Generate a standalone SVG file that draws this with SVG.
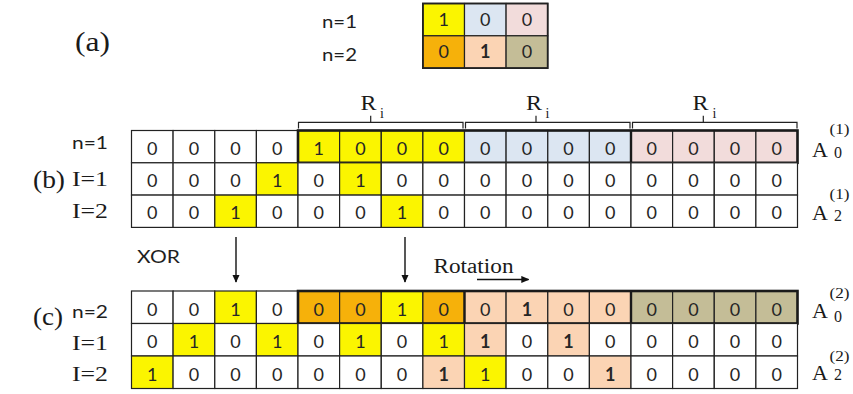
<svg xmlns="http://www.w3.org/2000/svg" width="853" height="394" viewBox="0 0 853 394">
  <style>
    .cell { stroke: #222; stroke-width: 1.2; fill: #ffffff; }
    .y { fill: #fbf500; }
    .b { fill: #dce6f2; }
    .p { fill: #f2dcdb; }
    .o { fill: #f6b10a; }
    .k { fill: #fbd4b4; }
    .t { fill: #c4bd97; }
    .frame { fill: none; stroke: #1a1a1a; stroke-width: 2.6; }
    .sep { stroke: #1a1a1a; stroke-width: 2.4; }
    .d { font-family: Lato, "Open Sans", sans-serif; font-size: 18px; fill: #262626; text-anchor: middle; }
    .bd { font-weight: bold; }
    .lab { font-family: Lato, "Open Sans", sans-serif; font-size: 17px; fill: #1e1e1e; }
    .ser { font-family: "Liberation Serif", "DejaVu Serif", serif; fill: #1a1a1a; }
    .brk { fill: none; stroke: #222; stroke-width: 1.2; }
    .arr { stroke: #111; stroke-width: 1.4; fill: none; }
  </style>
  <defs>
    <marker id="ah" viewBox="0 0 10 10" refX="9" refY="5" markerWidth="8" markerHeight="8" markerUnits="userSpaceOnUse" orient="auto">
      <path d="M0,0.5 L10,5 L0,9.5 z" fill="#111"/>
    </marker>
  </defs>
  <rect width="853" height="394" fill="#ffffff"/>

  <!-- panel (a): 2x3 colour key -->
  <g id="panel-a">
    <text class="ser" x="75" y="51" font-size="27" textLength="35" lengthAdjust="spacingAndGlyphs">(a)</text>
    <text class="lab" x="322" y="28" textLength="35" lengthAdjust="spacingAndGlyphs">n=1</text>
    <text class="lab" x="322" y="61" textLength="35" lengthAdjust="spacingAndGlyphs">n=2</text>
    <rect class="cell y" x="422.9" y="3.5" width="41.6" height="32.3"/>
    <rect class="cell b" x="464.5" y="3.5" width="41.6" height="32.3"/>
    <rect class="cell p" x="506.1" y="3.5" width="41.6" height="32.3"/>
    <rect class="cell o" x="422.9" y="35.8" width="41.6" height="32.3"/>
    <rect class="cell k" x="464.5" y="35.8" width="41.6" height="32.3"/>
    <rect class="cell t" x="506.1" y="35.8" width="41.6" height="32.3"/>
    <rect x="422.9" y="3.5" width="124.8" height="64.6" fill="none" stroke="#222" stroke-width="1.8"/>
    <text class="d" x="443.7" y="26">1</text>
    <text class="d" x="485.3" y="26">0</text>
    <text class="d" x="526.9" y="26">0</text>
    <text class="d" x="443.7" y="58.3">0</text>
    <text class="d bd" x="485.3" y="58.3">1</text>
    <text class="d" x="526.9" y="58.3">0</text>
  </g>

  <!-- panel (b): A0(1) and the two shifted rows -->
  <g id="panel-b">
    <text class="ser" x="33" y="188" font-size="25" textLength="32" lengthAdjust="spacingAndGlyphs">(b)</text>
    <text class="lab" x="72" y="149" textLength="36" lengthAdjust="spacingAndGlyphs">n=1</text>
    <text class="ser" x="72" y="186" font-size="21" textLength="36" lengthAdjust="spacingAndGlyphs">I=1</text>
    <text class="ser" x="72" y="218" font-size="21" textLength="36" lengthAdjust="spacingAndGlyphs">I=2</text>

    <!-- brackets R_i over the three sub-blocks -->
    <path class="brk" d="M298.5,128.5 V122.3 H463 V128.5 M370.7,122.3 V115.7"/>
    <path class="brk" d="M465.5,128.5 V122.3 H630 V128.5 M536,122.3 V115.7"/>
    <path class="brk" d="M632.5,128.5 V122.3 H797 V128.5 M703.3,122.3 V115.7"/>
    <text class="ser" x="360.5" y="110" font-size="20" textLength="16" lengthAdjust="spacingAndGlyphs">R</text>
    <text class="ser" x="380" y="118" font-size="14">i</text>
    <text class="ser" x="526" y="110" font-size="20" textLength="16" lengthAdjust="spacingAndGlyphs">R</text>
    <text class="ser" x="545.5" y="118" font-size="14">i</text>
    <text class="ser" x="692.5" y="110" font-size="20" textLength="16" lengthAdjust="spacingAndGlyphs">R</text>
    <text class="ser" x="712.5" y="118" font-size="14">i</text>

    <!-- row n=1 -->
    <g transform="translate(0,130.5)">
      <rect class="cell" x="131.5" y="0" width="41.6" height="32.3"/>
      <rect class="cell" x="173.1" y="0" width="41.6" height="32.3"/>
      <rect class="cell" x="214.8" y="0" width="41.6" height="32.3"/>
      <rect class="cell" x="256.4" y="0" width="41.6" height="32.3"/>
      <rect class="cell y" x="298" y="0" width="41.6" height="32.3"/>
      <rect class="cell y" x="339.6" y="0" width="41.6" height="32.3"/>
      <rect class="cell y" x="381.3" y="0" width="41.6" height="32.3"/>
      <rect class="cell y" x="422.9" y="0" width="41.6" height="32.3"/>
      <rect class="cell b" x="464.5" y="0" width="41.6" height="32.3"/>
      <rect class="cell b" x="506.1" y="0" width="41.6" height="32.3"/>
      <rect class="cell b" x="547.8" y="0" width="41.6" height="32.3"/>
      <rect class="cell b" x="589.4" y="0" width="41.6" height="32.3"/>
      <rect class="cell p" x="631" y="0" width="41.6" height="32.3"/>
      <rect class="cell p" x="672.6" y="0" width="41.6" height="32.3"/>
      <rect class="cell p" x="714.3" y="0" width="41.6" height="32.3"/>
      <rect class="cell p" x="755.9" y="0" width="41.6" height="32.3"/>
      <text class="d" x="152.3" y="24.4">0</text>
      <text class="d" x="193.9" y="24.4">0</text>
      <text class="d" x="235.6" y="24.4">0</text>
      <text class="d" x="277.2" y="24.4">0</text>
      <text class="d" x="318.8" y="24.4">1</text>
      <text class="d" x="360.4" y="24.4">0</text>
      <text class="d" x="402.1" y="24.4">0</text>
      <text class="d" x="443.7" y="24.4">0</text>
      <text class="d" x="485.3" y="24.4">0</text>
      <text class="d" x="526.9" y="24.4">0</text>
      <text class="d" x="568.6" y="24.4">0</text>
      <text class="d" x="610.2" y="24.4">0</text>
      <text class="d" x="651.8" y="24.4">0</text>
      <text class="d" x="693.4" y="24.4">0</text>
      <text class="d" x="735.1" y="24.4">0</text>
      <text class="d" x="776.7" y="24.4">0</text>
      <rect class="frame" x="298" y="0" width="499.5" height="32.3"/>
      <line class="sep" x1="631" y1="0" x2="631" y2="32.3"/>
    </g>

    <!-- row I=1 -->
    <g transform="translate(0,162.8)">
      <rect class="cell" x="131.5" y="0" width="41.6" height="32.3"/>
      <rect class="cell" x="173.1" y="0" width="41.6" height="32.3"/>
      <rect class="cell" x="214.8" y="0" width="41.6" height="32.3"/>
      <rect class="cell y" x="256.4" y="0" width="41.6" height="32.3"/>
      <rect class="cell" x="298" y="0" width="41.6" height="32.3"/>
      <rect class="cell y" x="339.6" y="0" width="41.6" height="32.3"/>
      <rect class="cell" x="381.3" y="0" width="41.6" height="32.3"/>
      <rect class="cell" x="422.9" y="0" width="41.6" height="32.3"/>
      <rect class="cell" x="464.5" y="0" width="41.6" height="32.3"/>
      <rect class="cell" x="506.1" y="0" width="41.6" height="32.3"/>
      <rect class="cell" x="547.8" y="0" width="41.6" height="32.3"/>
      <rect class="cell" x="589.4" y="0" width="41.6" height="32.3"/>
      <rect class="cell" x="631" y="0" width="41.6" height="32.3"/>
      <rect class="cell" x="672.6" y="0" width="41.6" height="32.3"/>
      <rect class="cell" x="714.3" y="0" width="41.6" height="32.3"/>
      <rect class="cell" x="755.9" y="0" width="41.6" height="32.3"/>
      <text class="d" x="152.3" y="24.4">0</text>
      <text class="d" x="193.9" y="24.4">0</text>
      <text class="d" x="235.6" y="24.4">0</text>
      <text class="d" x="277.2" y="24.4">1</text>
      <text class="d" x="318.8" y="24.4">0</text>
      <text class="d" x="360.4" y="24.4">1</text>
      <text class="d" x="402.1" y="24.4">0</text>
      <text class="d" x="443.7" y="24.4">0</text>
      <text class="d" x="485.3" y="24.4">0</text>
      <text class="d" x="526.9" y="24.4">0</text>
      <text class="d" x="568.6" y="24.4">0</text>
      <text class="d" x="610.2" y="24.4">0</text>
      <text class="d" x="651.8" y="24.4">0</text>
      <text class="d" x="693.4" y="24.4">0</text>
      <text class="d" x="735.1" y="24.4">0</text>
      <text class="d" x="776.7" y="24.4">0</text>
    </g>

    <!-- row I=2 -->
    <g transform="translate(0,195.1)">
      <rect class="cell" x="131.5" y="0" width="41.6" height="32.3"/>
      <rect class="cell" x="173.1" y="0" width="41.6" height="32.3"/>
      <rect class="cell y" x="214.8" y="0" width="41.6" height="32.3"/>
      <rect class="cell" x="256.4" y="0" width="41.6" height="32.3"/>
      <rect class="cell" x="298" y="0" width="41.6" height="32.3"/>
      <rect class="cell" x="339.6" y="0" width="41.6" height="32.3"/>
      <rect class="cell y" x="381.3" y="0" width="41.6" height="32.3"/>
      <rect class="cell" x="422.9" y="0" width="41.6" height="32.3"/>
      <rect class="cell" x="464.5" y="0" width="41.6" height="32.3"/>
      <rect class="cell" x="506.1" y="0" width="41.6" height="32.3"/>
      <rect class="cell" x="547.8" y="0" width="41.6" height="32.3"/>
      <rect class="cell" x="589.4" y="0" width="41.6" height="32.3"/>
      <rect class="cell" x="631" y="0" width="41.6" height="32.3"/>
      <rect class="cell" x="672.6" y="0" width="41.6" height="32.3"/>
      <rect class="cell" x="714.3" y="0" width="41.6" height="32.3"/>
      <rect class="cell" x="755.9" y="0" width="41.6" height="32.3"/>
      <text class="d" x="152.3" y="24.4">0</text>
      <text class="d" x="193.9" y="24.4">0</text>
      <text class="d" x="235.6" y="24.4">1</text>
      <text class="d" x="277.2" y="24.4">0</text>
      <text class="d" x="318.8" y="24.4">0</text>
      <text class="d" x="360.4" y="24.4">0</text>
      <text class="d" x="402.1" y="24.4">1</text>
      <text class="d" x="443.7" y="24.4">0</text>
      <text class="d" x="485.3" y="24.4">0</text>
      <text class="d" x="526.9" y="24.4">0</text>
      <text class="d" x="568.6" y="24.4">0</text>
      <text class="d" x="610.2" y="24.4">0</text>
      <text class="d" x="651.8" y="24.4">0</text>
      <text class="d" x="693.4" y="24.4">0</text>
      <text class="d" x="735.1" y="24.4">0</text>
      <text class="d" x="776.7" y="24.4">0</text>
    </g>

    <!-- A_0^(1), A_2^(1) -->
    <text class="ser" x="812" y="156.7" font-size="22">A</text>
    <text class="ser" x="829.5" y="134" font-size="15" textLength="20" lengthAdjust="spacingAndGlyphs">(1)</text>
    <text class="ser" x="834" y="158" font-size="16">0</text>
    <text class="ser" x="812" y="220" font-size="22">A</text>
    <text class="ser" x="829.5" y="199" font-size="15" textLength="20" lengthAdjust="spacingAndGlyphs">(1)</text>
    <text class="ser" x="834" y="221" font-size="16">2</text>
  </g>

  <!-- panel (c): A0(2) after XOR and rotation -->
  <g id="panel-c">
    <text class="ser" x="33" y="325" font-size="25" textLength="30" lengthAdjust="spacingAndGlyphs">(c)</text>
    <text class="lab" x="72" y="318" textLength="36" lengthAdjust="spacingAndGlyphs">n=2</text>
    <text class="ser" x="72" y="350" font-size="21" textLength="36" lengthAdjust="spacingAndGlyphs">I=1</text>
    <text class="ser" x="72" y="381" font-size="21" textLength="36" lengthAdjust="spacingAndGlyphs">I=2</text>

    <!-- row n=2 -->
    <g transform="translate(0,291)">
      <rect class="cell" x="131.5" y="0" width="41.6" height="32.5"/>
      <rect class="cell" x="173.1" y="0" width="41.6" height="32.5"/>
      <rect class="cell y" x="214.8" y="0" width="41.6" height="32.5"/>
      <rect class="cell" x="256.4" y="0" width="41.6" height="32.5"/>
      <rect class="cell o" x="298" y="0" width="41.6" height="32.5"/>
      <rect class="cell o" x="339.6" y="0" width="41.6" height="32.5"/>
      <rect class="cell y" x="381.3" y="0" width="41.6" height="32.5"/>
      <rect class="cell o" x="422.9" y="0" width="41.6" height="32.5"/>
      <rect class="cell k" x="464.5" y="0" width="41.6" height="32.5"/>
      <rect class="cell k" x="506.1" y="0" width="41.6" height="32.5"/>
      <rect class="cell k" x="547.8" y="0" width="41.6" height="32.5"/>
      <rect class="cell k" x="589.4" y="0" width="41.6" height="32.5"/>
      <rect class="cell t" x="631" y="0" width="41.6" height="32.5"/>
      <rect class="cell t" x="672.6" y="0" width="41.6" height="32.5"/>
      <rect class="cell t" x="714.3" y="0" width="41.6" height="32.5"/>
      <rect class="cell t" x="755.9" y="0" width="41.6" height="32.5"/>
      <text class="d" x="152.3" y="24.5">0</text>
      <text class="d" x="193.9" y="24.5">0</text>
      <text class="d" x="235.6" y="24.5">1</text>
      <text class="d" x="277.2" y="24.5">0</text>
      <text class="d" x="318.8" y="24.5">0</text>
      <text class="d" x="360.4" y="24.5">0</text>
      <text class="d" x="402.1" y="24.5">1</text>
      <text class="d" x="443.7" y="24.5">0</text>
      <text class="d" x="485.3" y="24.5">0</text>
      <text class="d bd" x="526.9" y="24.5">1</text>
      <text class="d" x="568.6" y="24.5">0</text>
      <text class="d" x="610.2" y="24.5">0</text>
      <text class="d" x="651.8" y="24.5">0</text>
      <text class="d" x="693.4" y="24.5">0</text>
      <text class="d" x="735.1" y="24.5">0</text>
      <text class="d" x="776.7" y="24.5">0</text>
      <rect class="frame" x="298" y="0" width="499.5" height="32.5"/>
      <line class="sep" x1="464.5" y1="0" x2="464.5" y2="32.5"/>
      <line class="sep" x1="631" y1="0" x2="631" y2="32.5"/>
    </g>

    <!-- row I=1 -->
    <g transform="translate(0,323.5)">
      <rect class="cell" x="131.5" y="0" width="41.6" height="32.5"/>
      <rect class="cell y" x="173.1" y="0" width="41.6" height="32.5"/>
      <rect class="cell" x="214.8" y="0" width="41.6" height="32.5"/>
      <rect class="cell y" x="256.4" y="0" width="41.6" height="32.5"/>
      <rect class="cell" x="298" y="0" width="41.6" height="32.5"/>
      <rect class="cell y" x="339.6" y="0" width="41.6" height="32.5"/>
      <rect class="cell" x="381.3" y="0" width="41.6" height="32.5"/>
      <rect class="cell y" x="422.9" y="0" width="41.6" height="32.5"/>
      <rect class="cell k" x="464.5" y="0" width="41.6" height="32.5"/>
      <rect class="cell" x="506.1" y="0" width="41.6" height="32.5"/>
      <rect class="cell k" x="547.8" y="0" width="41.6" height="32.5"/>
      <rect class="cell" x="589.4" y="0" width="41.6" height="32.5"/>
      <rect class="cell" x="631" y="0" width="41.6" height="32.5"/>
      <rect class="cell" x="672.6" y="0" width="41.6" height="32.5"/>
      <rect class="cell" x="714.3" y="0" width="41.6" height="32.5"/>
      <rect class="cell" x="755.9" y="0" width="41.6" height="32.5"/>
      <text class="d" x="152.3" y="24.5">0</text>
      <text class="d" x="193.9" y="24.5">1</text>
      <text class="d" x="235.6" y="24.5">0</text>
      <text class="d" x="277.2" y="24.5">1</text>
      <text class="d" x="318.8" y="24.5">0</text>
      <text class="d" x="360.4" y="24.5">1</text>
      <text class="d" x="402.1" y="24.5">0</text>
      <text class="d" x="443.7" y="24.5">1</text>
      <text class="d bd" x="485.3" y="24.5">1</text>
      <text class="d" x="526.9" y="24.5">0</text>
      <text class="d bd" x="568.6" y="24.5">1</text>
      <text class="d" x="610.2" y="24.5">0</text>
      <text class="d" x="651.8" y="24.5">0</text>
      <text class="d" x="693.4" y="24.5">0</text>
      <text class="d" x="735.1" y="24.5">0</text>
      <text class="d" x="776.7" y="24.5">0</text>
    </g>

    <!-- row I=2 -->
    <g transform="translate(0,356)">
      <rect class="cell y" x="131.5" y="0" width="41.6" height="32.5"/>
      <rect class="cell" x="173.1" y="0" width="41.6" height="32.5"/>
      <rect class="cell" x="214.8" y="0" width="41.6" height="32.5"/>
      <rect class="cell" x="256.4" y="0" width="41.6" height="32.5"/>
      <rect class="cell" x="298" y="0" width="41.6" height="32.5"/>
      <rect class="cell" x="339.6" y="0" width="41.6" height="32.5"/>
      <rect class="cell" x="381.3" y="0" width="41.6" height="32.5"/>
      <rect class="cell k" x="422.9" y="0" width="41.6" height="32.5"/>
      <rect class="cell y" x="464.5" y="0" width="41.6" height="32.5"/>
      <rect class="cell" x="506.1" y="0" width="41.6" height="32.5"/>
      <rect class="cell" x="547.8" y="0" width="41.6" height="32.5"/>
      <rect class="cell k" x="589.4" y="0" width="41.6" height="32.5"/>
      <rect class="cell" x="631" y="0" width="41.6" height="32.5"/>
      <rect class="cell" x="672.6" y="0" width="41.6" height="32.5"/>
      <rect class="cell" x="714.3" y="0" width="41.6" height="32.5"/>
      <rect class="cell" x="755.9" y="0" width="41.6" height="32.5"/>
      <text class="d" x="152.3" y="24.5">1</text>
      <text class="d" x="193.9" y="24.5">0</text>
      <text class="d" x="235.6" y="24.5">0</text>
      <text class="d" x="277.2" y="24.5">0</text>
      <text class="d" x="318.8" y="24.5">0</text>
      <text class="d" x="360.4" y="24.5">0</text>
      <text class="d" x="402.1" y="24.5">0</text>
      <text class="d bd" x="443.7" y="24.5">1</text>
      <text class="d" x="485.3" y="24.5">1</text>
      <text class="d" x="526.9" y="24.5">0</text>
      <text class="d" x="568.6" y="24.5">0</text>
      <text class="d bd" x="610.2" y="24.5">1</text>
      <text class="d" x="651.8" y="24.5">0</text>
      <text class="d" x="693.4" y="24.5">0</text>
      <text class="d" x="735.1" y="24.5">0</text>
      <text class="d" x="776.7" y="24.5">0</text>
    </g>

    <!-- A_0^(2), A_2^(2) -->
    <text class="ser" x="812" y="318.3" font-size="22">A</text>
    <text class="ser" x="829.5" y="297.5" font-size="15" textLength="20" lengthAdjust="spacingAndGlyphs">(2)</text>
    <text class="ser" x="834" y="321.5" font-size="16">0</text>
    <text class="ser" x="812" y="380" font-size="22">A</text>
    <text class="ser" x="829.5" y="361" font-size="15" textLength="20" lengthAdjust="spacingAndGlyphs">(2)</text>
    <text class="ser" x="834" y="380" font-size="16">2</text>

    <text class="lab" x="137" y="263" textLength="43" lengthAdjust="spacingAndGlyphs">XOR</text>
    <text class="ser" x="433.5" y="273" font-size="20" textLength="80" lengthAdjust="spacingAndGlyphs">Rotation</text>
  </g>

  <!-- connectors -->
  <g id="connectors">
    <line class="arr" x1="236" y1="237" x2="236" y2="282" marker-end="url(#ah)"/>
    <line class="arr" x1="405" y1="237" x2="405" y2="282" marker-end="url(#ah)"/>
    <line class="arr" x1="477" y1="279.5" x2="528.5" y2="279.5" marker-end="url(#ah)"/>
  </g>
</svg>
